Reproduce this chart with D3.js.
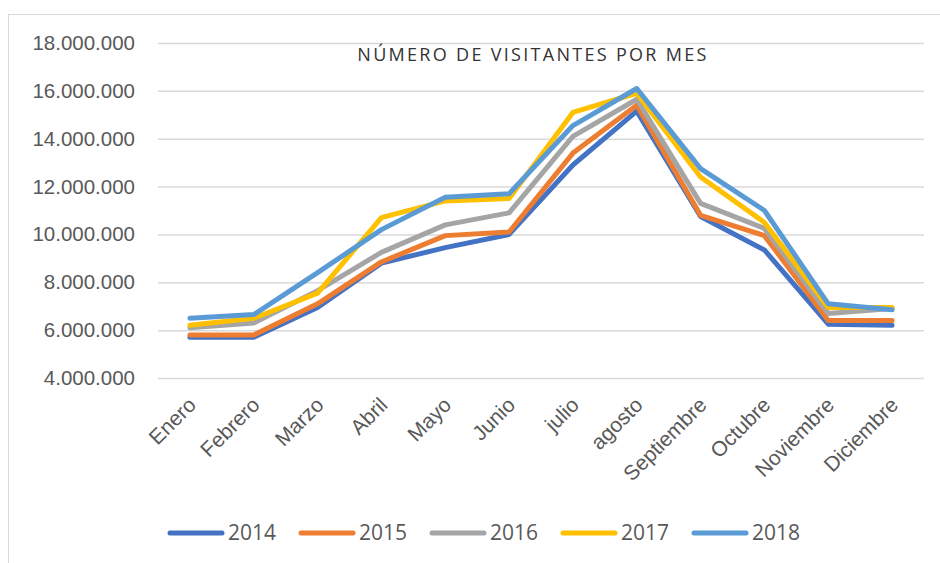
<!DOCTYPE html>
<html>
<head>
<meta charset="utf-8">
<title>Número de visitantes por mes</title>
<script src="https://d3js.org/d3.v7.min.js"></script>
<style>
  body { margin: 0; background: #fff; }
  svg { display: block; font-family: "Open Sans", "DejaVu Sans", sans-serif; }
</style>
</head>
<body>
<div id="chart"></div>
<script>
// data
const months = ["Enero", "Febrero", "Marzo", "Abril", "Mayo", "Junio", "julio", "agosto",
  "Septiembre", "Octubre", "Noviembre", "Diciembre"];
const years = ["2014", "2015", "2016", "2017", "2018"];
const colors = ["#4472C4", "#ED7D31", "#A5A5A5", "#FFC000", "#5B9BD5"];
const v2014 = [5700000, 5700000, 6950000, 8800000, 9450000, 10000000, 12900000, 15150000, 10750000, 9350000, 6250000, 6200000];
const v2015 = [5800000, 5800000, 7100000, 8850000, 9950000, 10100000, 13400000, 15400000, 10800000, 9950000, 6400000, 6400000];
const v2016 = [6100000, 6300000, 7650000, 9250000, 10400000, 10900000, 14100000, 15650000, 11300000, 10250000, 6700000, 6900000];
const v2017 = [6200000, 6500000, 7550000, 10700000, 11400000, 11500000, 15100000, 15900000, 12400000, 10500000, 6950000, 6950000];
const v2018 = [6500000, 6650000, 8400000, 10200000, 11550000, 11700000, 14550000, 16100000, 12750000, 11000000, 7100000, 6850000];
const yTicks = [4000000, 6000000, 8000000, 10000000, 12000000, 14000000, 16000000, 18000000];

const series = [v2014, v2015, v2016, v2017, v2018];

const width = 940, height = 563;
const margin = {left: 158, right: 16, top: 43, bottom: 185};

const svg = d3.select("#chart").append("svg")
  .attr("width", width)
  .attr("height", height);

// chart frame
svg.append("rect")
  .attr("x", 8.5).attr("y", 14.5)
  .attr("width", 940).attr("height", 560)
  .attr("fill", "none")
  .attr("stroke", "#d9d9d9");

const x = d3.scaleBand()
  .domain(months)
  .range([margin.left, width - margin.right]);

const y = d3.scaleLinear()
  .domain([4000000, 18000000])
  .range([height - margin.bottom, margin.top]);

const fmt = d => d3.format(",")(d).replace(/,/g, ".");

// gridlines + y labels
const yAxis = svg.append("g")
  .attr("transform", `translate(${margin.left},0)`)
  .call(d3.axisLeft(y).tickValues(yTicks).tickSize(-(width - margin.left - margin.right)).tickFormat(fmt).tickPadding(23));
yAxis.select(".domain").remove();
yAxis.selectAll(".tick line").attr("stroke", "#d9d9d9").attr("stroke-width", 1.5);
yAxis.selectAll(".tick text")
  .attr("fill", "#595959")
  .style("font-size", "20.5px");

// x labels, rotated
const xAxis = svg.append("g")
  .attr("transform", `translate(0,${height - margin.bottom})`)
  .call(d3.axisBottom(x).tickSize(0));
xAxis.select(".domain").remove();
xAxis.selectAll(".tick text")
  .attr("fill", "#595959")
  .style("font-size", "21px")
  .attr("text-anchor", "end")
  .attr("dy", "0.35em")
  .attr("transform", "translate(0,21) rotate(-45)");

// title
svg.append("text")
  .attr("x", 533)
  .attr("y", 61)
  .attr("text-anchor", "middle")
  .attr("fill", "#333333")
  .style("font-size", "18px")
  .style("letter-spacing", "2.3px")
  .text("NÚMERO DE VISITANTES POR MES");

// lines
const line = d3.line()
  .x((d, i) => x(months[i]) + x.bandwidth() / 2)
  .y(d => y(d));

svg.append("g")
  .selectAll("path")
  .data(series)
  .join("path")
  .attr("d", line)
  .attr("fill", "none")
  .attr("stroke", (d, i) => colors[i])
  .attr("stroke-width", 5)
  .attr("stroke-linejoin", "round")
  .attr("stroke-linecap", "round");

// legend
const legend = svg.append("g")
  .selectAll("g")
  .data(years)
  .join("g")
  .attr("transform", (d, i) => `translate(${170 + i * 131},533)`);

legend.append("line")
  .attr("x1", 0).attr("x2", 52)
  .attr("stroke", (d, i) => colors[i])
  .attr("stroke-width", 5)
  .attr("stroke-linecap", "round");

legend.append("text")
  .attr("x", 58)
  .attr("dy", "0.35em")
  .attr("fill", "#595959")
  .style("font-size", "21px")
  .text(d => d);
</script>
</body>
</html>
